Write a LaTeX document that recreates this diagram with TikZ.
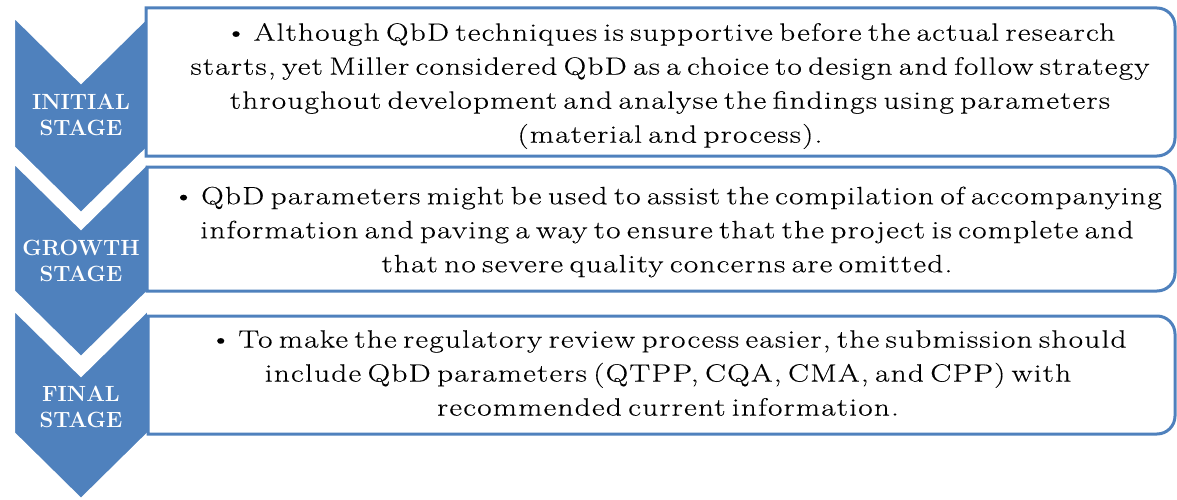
\documentclass[tikz,border=0pt]{standalone}
\usepackage{fontspec}
\newfontfamily\bodyfont{Latin Modern Roman}[FakeStretch=1.25,LetterSpace=5,WordSpace=0.6,FakeBold=0.3]
\definecolor{sblue}{HTML}{4F81BD}
\begin{document}
\begin{tikzpicture}[x=1pt,y=1pt,
  chev/.style={fill=sblue,draw=white,line width=2pt,line join=miter},
  boxline/.style={draw=sblue,line width=3pt,fill=white},
  lab/.style={text=white,font=\fontsize{22}{26}\selectfont\bfseries,align=center,inner sep=0pt},
  body/.style={font=\bodyfont\fontsize{25}{34}\selectfont,align=center,inner sep=0pt}]
\useasboundingbox (0,0) rectangle (1177,499);
% chevrons
\path[chev] (14,482) -- (81,416) -- (148,482) -- (148,352) -- (81,286) -- (14,352) -- cycle;
\path[chev] (14,336) -- (81,270) -- (148,336) -- (148,208) -- (81,142) -- (14,208) -- cycle;
\path[chev] (14,189) -- (81,123) -- (148,189) -- (148,66) -- (81,0) -- (14,66) -- cycle;
% boxes
\path[boxline] (146,343) -- (146,491) -- (1157,491) arc[start angle=90,end angle=0,radius=18] -- (1175,361) arc[start angle=0,end angle=-90,radius=18] -- cycle;
\path[boxline] (147,208) -- (147,332) -- (1157,332) arc[start angle=90,end angle=0,radius=18] -- (1175,226) arc[start angle=0,end angle=-90,radius=18] -- cycle;
\path[boxline] (148,65) -- (148,183) -- (1157,183) arc[start angle=90,end angle=0,radius=18] -- (1175,83) arc[start angle=0,end angle=-90,radius=18] -- cycle;
% labels
\node[lab] (l1) at (81,384) {INITIAL\\STAGE};
\node[lab] (l2) at (81,238) {GROWTH\\STAGE};
\node[lab] (l3) at (81,92) {FINAL\\STAGE};
% texts
\node[body] (t1) at (670,413) {\textbullet{} Although QbD techniques is supportive before the actual research\\starts, yet Miller considered QbD as a choice to design and follow strategy\\throughout development and analyse the findings using parameters\\(material and process).};
\node[body] (t2) at (667,267) {\textbullet{} QbD parameters might be used to assist the compilation of accompanying\\information and paving a way to ensure that the project is complete and\\that no severe quality concerns are omitted.};
\node[body] (t3) at (668,126) {\textbullet{} To make the regulatory review process easier, the submission should\\include QbD parameters (QTPP, CQA, CMA, and CPP) with\\recommended current information.};
\end{tikzpicture}
\end{document}
